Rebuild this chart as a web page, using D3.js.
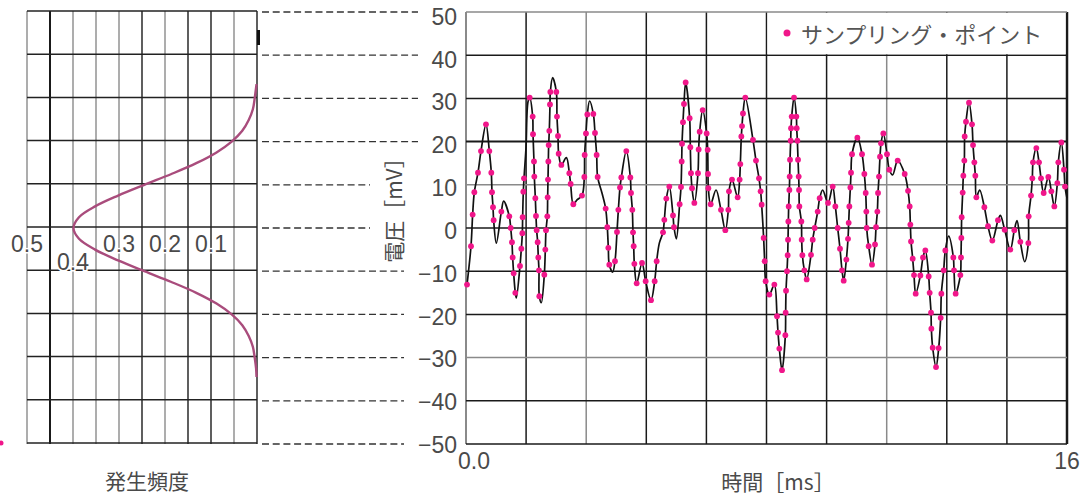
<!DOCTYPE html>
<html>
<head>
<meta charset="utf-8">
<script src="https://cdn.jsdelivr.net/npm/d3@7"></script>
<style>
body { margin: 0; background: #fff; }
svg { display: block; }
</style>
</head>
<body>
<div id="chart"></div>
<script>
// sampled points [ms, mV]
var samples = [
  [0.027,-13.1],[0.133,-4.2],[0.177,3.1],[0.222,8.3],[0.319,12.8],[0.399,17.8],[0.532,24.0],[0.621,17.8],[0.674,12.8],[0.692,8.3],
  [0.719,4.8],[0.736,1.8],[0.941,3.8],[1.153,2.7],[1.189,0],[1.224,-3.3],[1.242,-6.8],[1.269,-10.5],[1.313,-15.0],[1.437,-8.8],
  [1.473,-4.8],[1.500,-1.2],[1.508,2.5],[1.526,8.4],[1.544,11.5],[1.695,30.2],[1.775,25.8],[1.784,21.7],[1.810,15.4],[1.819,11.9],
  [1.846,6.9],[1.863,2.8],[1.881,-0.5],[1.908,-3.3],[1.925,-6.8],[1.943,-9.8],[1.952,-15.8],[2.085,-10.8],[2.112,-5.0],[2.130,-0.5],
  [2.165,2.7],[2.174,7.1],[2.183,11.2],[2.192,15.4],[2.201,19.2],[2.218,22.5],[2.236,28.6],[2.245,31.5],[2.405,31.5],[2.422,25.8],
  [2.449,21.3],[2.467,17.2],[2.538,14.6],[2.751,12.7],[2.786,10.2],[2.857,5.5],[3.088,7.5],[3.150,11.8],[3.159,16.9],[3.194,21.9],
  [3.230,26.3],[3.390,26.4],[3.434,22.0],[3.478,16.9],[3.505,11.8],[3.718,4.5],[3.762,0.2],[3.789,-4.6],[3.815,-8.5],[3.966,-7.7],
  [4.020,-0.9],[4.056,4.2],[4.100,9.4],[4.135,11.7],[4.268,17.8],[4.375,11.7],[4.393,8.1],[4.428,4.2],[4.446,-1.0],[4.464,-4.2],
  [4.482,-8.3],[4.544,-12.8],[4.686,-8.1],[4.783,-12.3],[4.925,-16.7],[5.023,-12.3],[5.076,-7.7],[5.245,-1.0],[5.280,1.9],[5.333,6.8],
  [5.413,9.6],[5.511,2.9],[5.537,0.2],[5.688,5.5],[5.724,9.5],[5.742,15.4],[5.751,19.5],[5.777,24.5],[5.803,28.7],[5.848,33.7],
  [5.954,25.4],[5.972,18.7],[5.990,12.7],[6.017,9.2],[6.079,5.8],[6.176,12.7],[6.194,18.2],[6.221,22.3],[6.301,27.3],[6.407,21.9],
  [6.434,18.1],[6.443,12.5],[6.452,9.2],[6.514,5.5],[6.788,4.2],[6.904,-0.5],[6.984,4.2],[7.001,8.5],[7.082,11.2],[7.232,7.1],
  [7.285,11.2],[7.303,14.8],[7.330,21.2],[7.348,23.6],[7.374,26.5],[7.436,30.2],[7.640,20.4],[7.720,15.6],[7.800,11.5],[7.844,8.5],
  [7.871,5.4],[7.924,-2.3],[7.951,-7.7],[7.977,-12.3],[8.076,-15.4],[8.209,-13.1],[8.280,-20.4],[8.307,-24.2],[8.342,-27.9],[8.413,-32.9],
  [8.502,-24.8],[8.510,-19.6],[8.520,-14.5],[8.546,-10.0],[8.564,-6.3],[8.573,-2.7],[8.582,1.5],[8.591,5.0],[8.609,8.8],[8.617,11.9],
  [8.626,15.8],[8.644,20.2],[8.653,23.1],[8.671,25.8],[8.733,30.2],[8.795,25.8],[8.804,23.1],[8.822,20.2],[8.839,15.8],[8.857,11.9],
  [8.866,8.8],[8.875,5.0],[8.928,1.5],[8.937,-2.7],[8.955,-6.3],[9.008,-9.8],[9.070,-11.9],[9.185,-6.2],[9.230,-2.7],[9.283,0],
  [9.363,3.8],[9.416,6.9],[9.638,5.8],[9.762,9.6],[9.833,5.0],[9.895,0],[9.957,-4.8],[10.011,-9.8],[10.055,-12.2],[10.126,-7.3],
  [10.170,-2.5],[10.188,1.2],[10.206,5.0],[10.233,9.4],[10.250,12.8],[10.277,17.1],[10.419,20.9],[10.543,17.1],[10.605,12.5],[10.641,8.1],
  [10.658,3.8],[10.667,0],[10.720,-4.2],[10.809,-8.5],[10.889,-3.8],[10.916,0.2],[10.951,3.8],[10.969,8.1],[10.995,11.9],[11.022,16.5],
  [11.049,19.6],[11.111,21.9],[11.208,17.1],[11.270,13.5],[11.492,15.6],[11.679,12.5],[11.768,8.6],[11.812,5.0],[11.830,0.8],[11.848,-3.1],
  [11.892,-7.1],[11.927,-10.9],[11.972,-15.2],[12.096,-11.0],[12.167,-6.8],[12.229,-5.2],[12.318,-11.2],[12.344,-15.0],[12.380,-19.6],[12.389,-23.3],
  [12.424,-27.7],[12.513,-32.2],[12.584,-27.8],[12.637,-20.8],[12.655,-15.2],[12.717,-9.8],[12.761,-5.2],[12.974,-6.8],[12.992,-9.8],[13.036,-15.2],
  [13.161,-10.9],[13.178,-6.8],[13.187,-2.3],[13.196,2.5],[13.223,8.2],[13.240,12.1],[13.267,15.6],[13.276,21.2],[13.311,24.6],[13.391,29.0],
  [13.471,24.0],[13.498,19.2],[13.533,15.2],[13.560,12.1],[13.587,7.1],[13.800,4.8],[13.897,0.4],[14.012,-2.9],[14.163,1.8],[14.341,-0.4],
  [14.491,-5.0],[14.598,-0.5],[14.758,-3.2],[14.971,-3.5],[14.980,2.7],[15.042,7.5],[15.077,11.5],[15.095,15.2],[15.184,18.5],[15.255,15.2],
  [15.308,11.5],[15.379,8.1],[15.503,11.8],[15.583,8.5],[15.663,5.0],[15.743,10.4],[15.769,15.2],[15.849,19.8],[15.920,13.5],[15.947,9.6]
];

// waveform turning points between samples [ms, mV]
var peaks = [
  [0.807,-3.5],[1.003,6.2],[1.340,-16.2],[1.597,18.5],[1.650,29.2],[2.005,-17.3],[2.307,34.8],[2.671,16.3],
  [2.955,6.5],[3.290,29.4],[3.620,8.1],[3.904,-10.2],[5.147,-3.5],[5.600,-2.5],[6.656,8.8],[9.496,8.8],
  [11.359,12.3],[12.850,-1.9],[13.675,8.8],[14.225,2.9],[14.669,1.7],[14.873,-7.8],[16.0,6.9]
];

// distribution on the left (mV level, frequency)
var levels = [-34.5,-32.5,-30,-27.5,-25,-22.5,-20,-17.5,-15,-12.5,-10,-7.5,-5,-2.5,0,2.5,5,7.5,10,12.5,15,17.5,20,22.5,25,27.5,30,32.5,33.3];
var freq = [0.001,0.002,0.005,0.009,0.018,0.032,0.055,0.088,0.132,0.186,0.245,0.302,0.352,0.387,0.399,0.387,0.352,0.302,0.245,0.186,0.132,0.088,0.055,0.032,0.018,0.009,0.005,0.002,0.001];

var voltTicks = [50, 40, 30, 20, 10, 0, -10, -20, -30, -40, -50];
var freqLabels = [0.5, 0.4, 0.3, 0.2, 0.1];
var timeLabels = [0, 16];

var width = 1085, height = 496;
var numFont = "'Liberation Sans', Arial, sans-serif";
var jpFont = "'Noto Sans CJK JP', 'Noto Sans', sans-serif";
var textColor = "#4a4a4a";

var svg = d3.select('#chart').append('svg')
    .attr('width', width)
    .attr('height', height);

var x = d3.scaleLinear().domain([0, 16]).range([466, 1067]);
var y = d3.scaleLinear().domain([-50, 50]).range([444, 12]);
var f = d3.scaleLinear().domain([0.5, 0]).range([27, 257]);
var labelY = d3.scaleLinear().domain([-50, 50]).range([445, 16.7]);

// ---------- left panel ----------
var left = svg.append('g').attr('id', 'dist');

var freqGrid = d3.range(0, 11).map(function (i) { return i * 0.05; });
var darkF = [0.45, 0.25, 0.15, 0.1, 0];

left.selectAll('.vline')
    .data(freqGrid)
    .enter().append('line')
    .attr('x1', function (d) { return f(d); })
    .attr('x2', function (d) { return f(d); })
    .attr('y1', y(50) - 1)
    .attr('y2', y(-50))
    .attr('stroke', function (d) {
        return darkF.some(function (v) { return Math.abs(v - d) < 1e-6; }) ? '#1a1a1a' : '#8a8a8a';
    })
    .attr('stroke-width', function (d) { return Math.abs(d - 0.45) < 1e-6 ? 2 : 1.4; });

left.selectAll('.hline')
    .data(voltTicks)
    .enter().append('line')
    .attr('x1', f(0.5))
    .attr('x2', f(0))
    .attr('y1', function (d) { return y(d) - 1; })
    .attr('y2', function (d) { return y(d) - 1; })
    .attr('stroke', '#222')
    .attr('stroke-width', 1.5);

left.append('path')
    .datum(levels.map(function (v, i) { return [freq[i], v]; }))
    .attr('fill', 'none')
    .attr('stroke', '#a94c7c')
    .attr('stroke-width', 2.4)
    .attr('d', d3.line()
        .x(function (d) { return f(d[0]); })
        .y(function (d) { return y(d[1]); })
        .curve(d3.curveCatmullRom.alpha(0.5)));

left.selectAll('.flabel')
    .data(freqLabels)
    .enter().append('text')
    .attr('x', function (d) { return f(d); })
    .attr('y', function (d) { return d === 0.4 ? 262 : 244; })
    .attr('text-anchor', 'middle')
    .attr('dominant-baseline', 'central')
    .style('font-family', numFont)
    .style('font-size', '23px')
    .style('fill', textColor)
    .style('paint-order', 'stroke')
    .style('stroke', '#fff')
    .style('stroke-width', 3)
    .text(function (d) { return d.toFixed(1); });

left.append('rect')
    .attr('x', 257).attr('y', 30)
    .attr('width', 3).attr('height', 15)
    .attr('fill', '#111');

left.append('circle')
    .attr('cx', 1).attr('cy', 443).attr('r', 2.5)
    .attr('fill', '#f0168a');

left.append('text')
    .attr('x', 147)
    .attr('y', 489)
    .attr('text-anchor', 'middle')
    .style('font-family', jpFont)
    .style('font-size', '21px')
    .style('fill', textColor)
    .text('発生頻度');

// ---------- dashed connectors ----------
svg.append('g').selectAll('line')
    .data(voltTicks)
    .enter().append('line')
    .attr('x1', 262)
    .attr('x2', function (d) {
        if (d === 10 || d === 0) return 370;
        return d > 0 ? 418 : 404;
    })
    .attr('y1', function (d) { return y(d); })
    .attr('y2', function (d) { return y(d); })
    .attr('stroke', '#333')
    .attr('stroke-width', 1.3)
    .attr('stroke-dasharray', '7,3.7');

// ---------- right panel ----------
var plot = svg.append('g').attr('id', 'wave');

var timeGrid = d3.range(0, 11).map(function (i) { return i * 1.6; });
var grayT = [0, 3.2, 11.2];
var grayV = [50, 10, -30];

plot.selectAll('.vline')
    .data(timeGrid)
    .enter().append('line')
    .attr('x1', function (d) { return x(d); })
    .attr('x2', function (d) { return x(d); })
    .attr('y1', y(50))
    .attr('y2', y(-50))
    .attr('stroke', function (d) {
        return grayT.some(function (v) { return Math.abs(v - d) < 1e-6; }) ? '#8a8a8a' : '#1a1a1a';
    })
    .attr('stroke-width', function (d) { return d === 16 ? 2.5 : (d === 0 ? 2 : 1.5); });

plot.selectAll('.hline')
    .data(voltTicks)
    .enter().append('line')
    .attr('x1', x(0))
    .attr('x2', x(16))
    .attr('y1', function (d) { return y(d); })
    .attr('y2', function (d) { return y(d); })
    .attr('stroke', function (d) { return grayV.indexOf(d) >= 0 ? '#8a8a8a' : '#1a1a1a'; })
    .attr('stroke-width', function (d) { return d === 20 ? 2 : 1.5; });

// legend box sits in the top row of the grid
plot.append('rect')
    .attr('x', x(8) + 1)
    .attr('y', y(50) + 1)
    .attr('width', x(16) - x(8) - 2.5)
    .attr('height', y(40) - y(50) - 2)
    .attr('fill', '#fff');

plot.append('circle')
    .attr('cx', 787).attr('cy', 33).attr('r', 3.5)
    .attr('fill', '#f0168a');

plot.append('text')
    .attr('x', 801)
    .attr('y', 33)
    .attr('dominant-baseline', 'central')
    .style('font-family', jpFont)
    .style('font-size', '22px')
    .style('fill', '#555')
    .text('サンプリング・ポイント');

var wave = samples.concat(peaks).sort(function (a, b) { return a[0] - b[0]; });

plot.append('path')
    .datum(wave)
    .attr('fill', 'none')
    .attr('stroke', '#111')
    .attr('stroke-width', 1.7)
    .attr('stroke-linejoin', 'round')
    .attr('d', d3.line()
        .x(function (d) { return x(d[0]); })
        .y(function (d) { return y(d[1]); })
        .curve(d3.curveCatmullRom.alpha(0.5)));

plot.selectAll('.dot')
    .data(samples)
    .enter().append('circle')
    .attr('cx', function (d) { return x(d[0]); })
    .attr('cy', function (d) { return y(d[1]); })
    .attr('r', 2.9)
    .attr('fill', '#f0168a');

// y tick labels
svg.append('g').selectAll('text')
    .data(voltTicks)
    .enter().append('text')
    .attr('x', 457)
    .attr('y', function (d) { return labelY(d); })
    .attr('text-anchor', 'end')
    .attr('dominant-baseline', 'central')
    .style('font-family', numFont)
    .style('font-size', '23px')
    .style('fill', textColor)
    .text(function (d) { return d < 0 ? '\u2212' + Math.abs(d) : d; });

// x tick labels
svg.append('g').selectAll('text')
    .data(timeLabels)
    .enter().append('text')
    .attr('x', function (d) { return d === 0 ? x(d) + 8 : x(d); })
    .attr('y', 461)
    .attr('text-anchor', 'middle')
    .attr('dominant-baseline', 'central')
    .style('font-family', numFont)
    .style('font-size', '23px')
    .style('fill', textColor)
    .text(function (d) { return d === 0 ? '0.0' : d; });

svg.append('text')
    .attr('x', 778)
    .attr('y', 490)
    .attr('text-anchor', 'middle')
    .style('font-family', jpFont)
    .style('font-size', '21px')
    .style('fill', textColor)
    .text('時間［ms］');

svg.append('text')
    .attr('transform', 'translate(402,205) rotate(-90)')
    .attr('text-anchor', 'middle')
    .style('font-family', jpFont)
    .style('font-size', '21px')
    .style('fill', textColor)
    .text('電圧［mV］');
</script>
</body>
</html>
